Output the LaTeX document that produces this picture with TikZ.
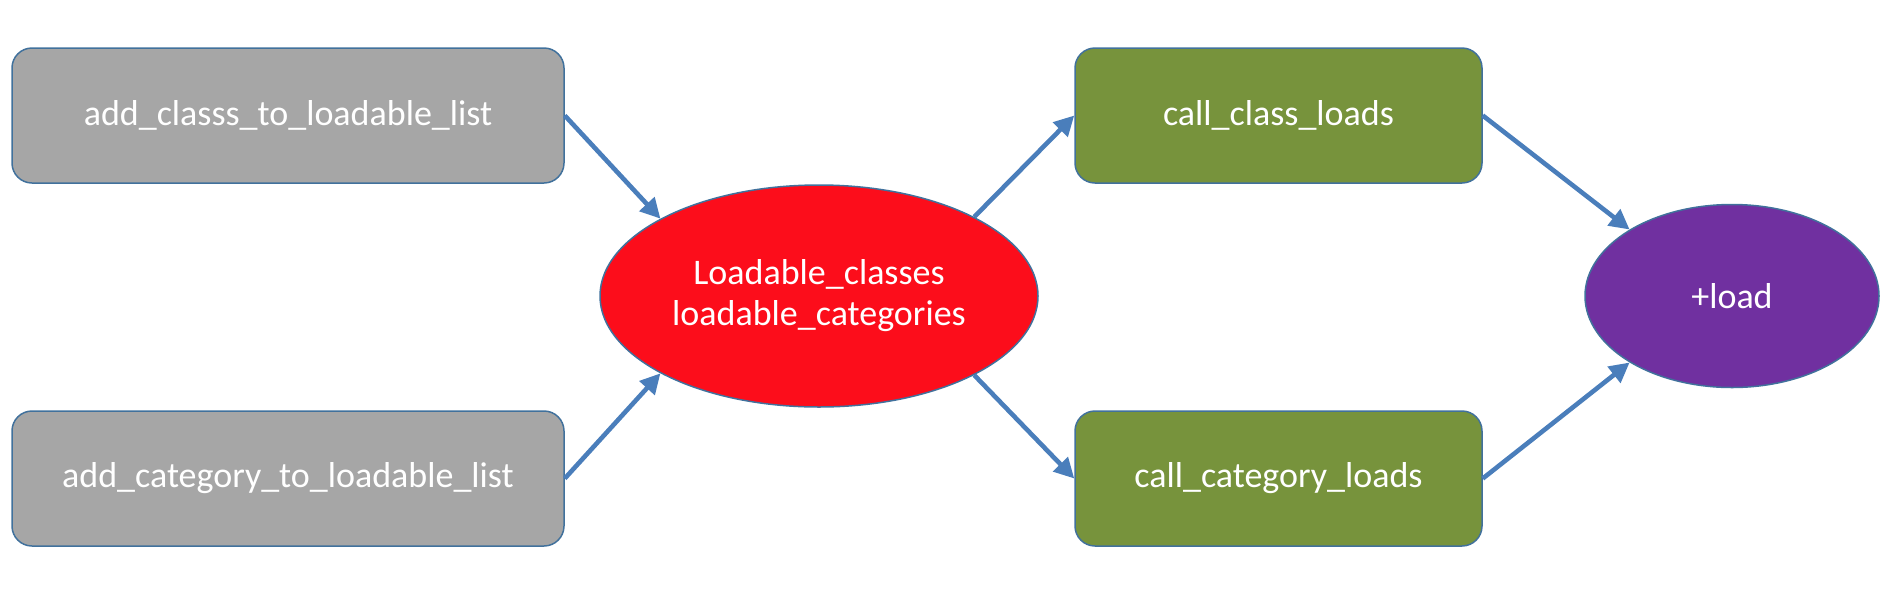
\documentclass[tikz,border=0pt]{standalone}
\usepackage{fontspec}
\setmainfont{Carlito}
\usetikzlibrary{shapes.geometric,arrows.meta}
\definecolor{edgeblue}{HTML}{41719C}
\definecolor{linkblue}{HTML}{4A7EBB}
\definecolor{fngray}{HTML}{A6A6A6}
\definecolor{fngreen}{HTML}{77933C}
\definecolor{listred}{HTML}{FC0D1B}
\definecolor{loadpurple}{HTML}{7030A0}
\tikzset{
    fnbox/.style    = {draw=edgeblue, line width=1.5pt, rounded corners=20pt,
                      text=white, font=\fontsize{36}{42}\selectfont,
                      minimum width=552pt, minimum height=135pt, inner sep=0pt},
    graybox/.style  = {fnbox, fill=fngray},
    greenbox/.style = {fnbox, fill=fngreen, minimum width=407pt},
    blob/.style     = {ellipse, draw=edgeblue, line width=1.5pt, text=white,
                      font=\fontsize{36}{41}\selectfont, align=center, inner sep=0pt},
    link/.style     = {draw=linkblue, line width=4.6pt,
                      -{Triangle[length=20pt,width=20pt]}},
}
\begin{document}
\begin{tikzpicture}[x=1pt,y=-1pt]
    \useasboundingbox (0,0) rectangle (1886,606);

    % registration functions on the left
    \node[graybox] (addclass) at (288,115.5) {add\_classs\_to\_loadable\_list};
    \node[graybox] (addcat)   at (288,478.5) {add\_category\_to\_loadable\_list};

    % the two loadable lists
    \node[blob, fill=listred, minimum width=438pt, minimum height=222pt] (lists)
        at (819,296) {Loadable\_classes\\loadable\_categories};

    % call functions
    \node[greenbox] (callclass) at (1278.5,115.5) {call\_class\_loads};
    \node[greenbox] (callcat)   at (1278.5,478.5) {call\_category\_loads};

    % the +load method
    \node[blob, fill=loadpurple, minimum width=294pt, minimum height=183pt] (load)
        at (1732,296) {+load};

    % connectors
    \draw[link] (addclass.east) -- (lists.154);
    \draw[link] (addcat.east)   -- (lists.206);
    \draw[link] (lists.27)      -- (callclass.west);
    \draw[link] (lists.333)     -- (callcat.west);
    \draw[link] (callclass.east) -- (load.147);
    \draw[link] (callcat.east)   -- (load.213);
\end{tikzpicture}
\end{document}
